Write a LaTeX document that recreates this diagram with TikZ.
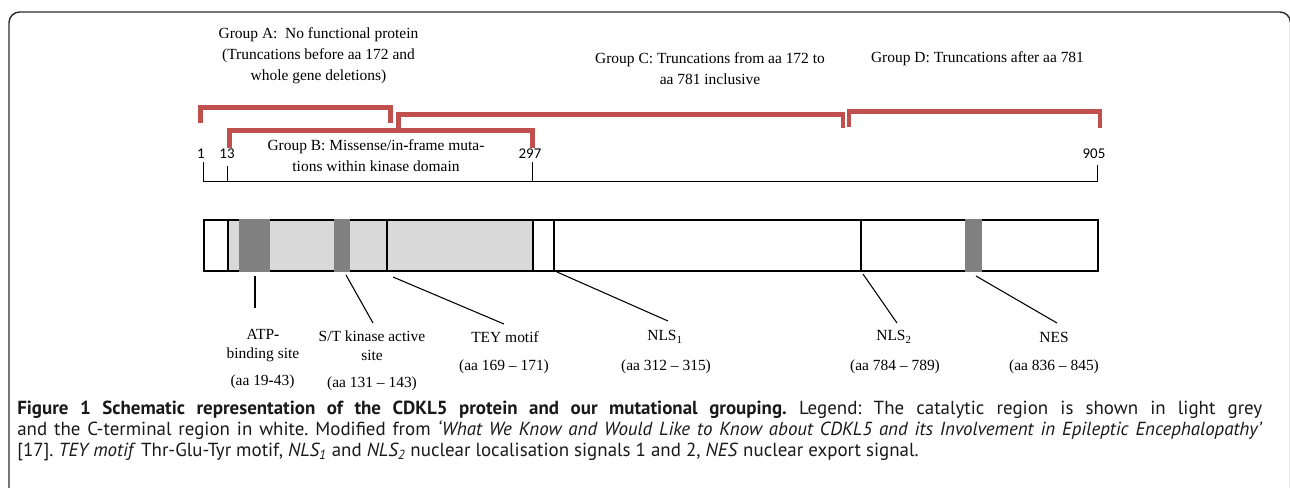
\documentclass[tikz,border=0pt]{standalone}
\usepackage{fontspec}
\setmainfont{Liberation Serif}
\newfontfamily\capfont{PT Sans}
\newfontfamily\numfont{Carlito}
\usetikzlibrary{positioning, calc}
\definecolor{bracketred}{RGB}{192,80,77}
\definecolor{kinasegrey}{RGB}{217,217,217}
\definecolor{motifgrey}{RGB}{128,128,128}
\definecolor{framegrey}{RGB}{45,45,45}
\frenchspacing

\begin{document}
\begin{tikzpicture}[
  x=0.75pt, y=-0.75pt,
  grouptext/.style={align=center, inner sep=0pt, font=\fontsize{11.6}{15.75}\selectfont},
  feattext/.style={align=center, inner sep=0pt, font=\fontsize{11.6}{14.25}\selectfont},
  postext/.style={inner sep=0pt, font=\numfont\fontsize{11.2}{13}\selectfont},
  grpbracket/.style={draw=bracketred, line width=3.4pt, line join=miter},
  thindiv/.style={line width=1.2pt},
  thickdiv/.style={line width=2.1pt},
  motifblock/.style={fill=motifgrey, draw=none},
  callout/.style={line width=0.8pt},
  axisline/.style={line width=1.1pt},
  captext/.style={anchor=north west, inner sep=0pt, text width=933.75pt, align=justify,
    text=black!90, font=\capfont\fontsize{14.2}{15.75}\selectfont}
]
\useasboundingbox (0,0) rectangle (1290,487);
\clip (0,0) rectangle (1290,487);

% Frame
\draw[framegrey, line width=1.1pt, rounded corners=8pt] (9,520) -- (9,12) -- (1290.5,12) -- (1290.5,520);

% Group labels
\node[grouptext] (grpA) at (318.5,55.5) {Group A:~ No functional protein\\(Truncations before aa 172 and\\whole gene deletions)};
\node[grouptext] (grpC) at (710,68.5) {Group C: Truncations from aa 172 to\\aa 781 inclusive};
\node[grouptext] (grpD) at (977.5,59) {Group D: Truncations after aa 781};
\node[grouptext] (grpB) at (376,155.5) {Group B: Missense/in\textbf{-}frame muta-\\tions within kinase domain};

% Brackets
\draw[grpbracket] (200.5,123) -- (200.5,107.5) -- (390.5,107.5) -- (390.5,123);
\draw[grpbracket] (398.5,128) -- (398.5,114.5) -- (843.2,114.5) -- (843.2,128);
\draw[grpbracket] (849.2,127) -- (849.2,111.7) -- (1100.2,111.7) -- (1100.2,128);
\draw[grpbracket] (229.7,148) -- (229.7,130.5) -- (532.3,130.5) -- (532.3,148);

% Residue scale
\node[postext] (p1) at (201,154) {1};
\node[postext] (p13) at (227,154) {13};
\node[postext] (p297) at (530,154) {297};
\node[postext] (p905) at (1094,154) {905};
\draw[axisline] (203.3,161.7) |- (1097.7,181.7) -- (1097.7,165);
\draw[axisline] (227.7,166) -- (227.7,181.7);
\draw[axisline] (532.3,161.7) -- (532.3,181.7);

% Protein bar
\fill[kinasegrey] (228,220) rectangle (533,271);
\draw[line width=1.5pt] (204,220) rectangle (1098,271);
\draw[thindiv] (228,220) -- (228,271);
\draw[thindiv] (533,220) -- (533,271);
\draw[thickdiv] (387,220) -- (387,271);
\draw[thickdiv] (554,220) -- (554,271);
\draw[thickdiv] (861,220) -- (861,271);
\fill[motifblock] (239,219) rectangle (270,272);
\fill[motifblock] (334,219) rectangle (350,272);
\fill[motifblock] (965,219) rectangle (982,272);

% Feature labels
\node[feattext] (atp) at (263,345.5) {ATP\textbf{-}\\binding site};
\node[feattext] (atpaa) at (262.5,382) {(aa 19\textbf{-}43)};
\node[feattext] (stk) at (372,345.5) {S/T kinase active\\site};
\node[feattext] (stkaa) at (372,384) {(aa 131 – 143)};
\node[feattext] (tey) at (505,337) {TEY motif};
\node[feattext] (teyaa) at (504,367) {(aa 169 – 171)};
\node[feattext] (nlsa) at (665,337) {NLS\textsubscript{1}};
\node[feattext] (nlsaaa) at (666,367) {(aa 312 – 315)};
\node[feattext] (nlsb) at (894,337) {NLS\textsubscript{2}};
\node[feattext] (nlsbaa) at (895,367) {(aa 784 – 789)};
\node[feattext] (nes) at (1054,337) {NES};
\node[feattext] (nesaa) at (1054,367) {(aa 836 – 845)};

% Callouts
\coordinate (atp-s) at (255,276);   \coordinate (atp-e) at (255,308);
\coordinate (stk-s) at (346,275);   \coordinate (stk-e) at (373,323);
\coordinate (tey-s) at (393,277);   \coordinate (tey-e) at (504,324);
\coordinate (nlsa-s) at (557,272);  \coordinate (nlsa-e) at (668,321);
\coordinate (nlsb-s) at (863,274);  \coordinate (nlsb-e) at (897,323);
\coordinate (nes-s) at (976,276);   \coordinate (nes-e) at (1057,323);
\foreach \f in {atp, stk, tey, nlsa, nlsb, nes}
  \draw[callout] (\f-s) -- (\f-e);

% Caption
\node[captext] (caption) at (17,401) {\textbf{Figure 1 Schematic representation of the CDKL5 protein and our mutational grouping.} Legend: The catalytic region is shown in light grey\linebreak
and the C-terminal region in white. Modified from \textit{‘What We Know and Would Like to Know about CDKL5 and its Involvement in Epileptic Encephalopathy’}\linebreak{}[17]. \textit{TEY motif} Thr-Glu-Tyr motif, \textit{NLS\textsubscript{1}} and \textit{NLS\textsubscript{2}} nuclear localisation signals 1 and 2, \textit{NES} nuclear export signal.};

\end{tikzpicture}
\end{document}
